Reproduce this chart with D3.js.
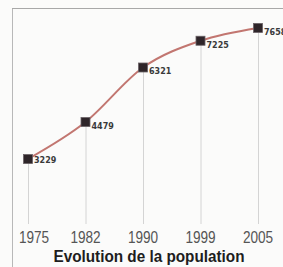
<!DOCTYPE html>
<html>
<head>
<meta charset="utf-8">
<script src="https://cdn.jsdelivr.net/npm/d3@7"></script>
<style>
    html, body { margin: 0; padding: 0; background: #fbfbfa; overflow: hidden; }
</style>
</head>
<body>
<div id="chart"></div>
<script>
const years = [ '1975', '1982', '1990', '1999', '2005' ];
const population = [ 3229, 4479, 6321, 7225, 7658 ];
const title = 'Evolution de la population';

const width = 283;
const height = 267;

const data = years.map( ( y, i ) => ( { year: y, value: population[ i ] } ) );

const svg = d3.select( '#chart' ).append( 'svg' )
    .attr( 'width', width )
    .attr( 'height', height )
    .style( 'display', 'block' );

// frame: left rule + top rule
svg.append( 'line' )
    .attr( 'x1', 12.5 ).attr( 'x2', 12.5 )
    .attr( 'y1', 8 ).attr( 'y2', height )
    .attr( 'stroke', '#b8b8b8' ).attr( 'stroke-width', 1 );
svg.append( 'line' )
    .attr( 'x1', 12 ).attr( 'x2', width )
    .attr( 'y1', 8.5 ).attr( 'y2', 8.5 )
    .attr( 'stroke', '#a8a8a8' ).attr( 'stroke-width', 1 );

const xScale = d3.scalePoint()
    .domain( years )
    .range( [ 28, 258 ] );

const yScale = d3.scaleLinear()
    .domain( [ 3000, 8000 ] )
    .range( [ 165.8, 17.8 ] );

const gridBottom = 224;

// vertical drop lines
svg.append( 'g' )
    .selectAll( 'line' )
    .data( data )
    .enter()
    .append( 'line' )
    .attr( 'x1', d => xScale( d.year ) + 0.5 )
    .attr( 'x2', d => xScale( d.year ) + 0.5 )
    .attr( 'y1', d => yScale( d.value ) )
    .attr( 'y2', gridBottom )
    .attr( 'stroke', '#d4d4d4' )
    .attr( 'stroke-width', 1 );

// curve
const line = d3.line()
    .x( d => xScale( d.year ) )
    .y( d => yScale( d.value ) )
    .curve( d3.curveMonotoneX );

svg.append( 'path' )
    .datum( data )
    .attr( 'd', line )
    .attr( 'fill', 'none' )
    .attr( 'stroke', '#c27670' )
    .attr( 'stroke-width', 2 );

// markers
svg.append( 'g' )
    .selectAll( 'rect' )
    .data( data )
    .enter()
    .append( 'rect' )
    .attr( 'x', d => xScale( d.year ) - 4.5 )
    .attr( 'y', d => yScale( d.value ) - 4.5 )
    .attr( 'width', 9 )
    .attr( 'height', 9 )
    .attr( 'fill', '#2e2529' )
    .attr( 'stroke', '#6a6266' )
    .attr( 'stroke-width', 0.8 );

// value labels
svg.append( 'g' )
    .selectAll( 'text' )
    .data( data )
    .enter()
    .append( 'text' )
    .attr( 'x', d => xScale( d.year ) + 6 )
    .attr( 'y', d => yScale( d.value ) + ( d.year === '1975' ? 4 : 7 ) )
    .attr( 'font-family', 'DejaVu Sans, Verdana, sans-serif' )
    .attr( 'font-size', 8 )
    .attr( 'font-weight', 'bold' )
    .attr( 'fill', '#3a3a3a' )
    .text( d => d.value );

// x axis labels (condensed horizontally)
svg.append( 'g' )
    .selectAll( 'text' )
    .data( years )
    .enter()
    .append( 'text' )
    .attr( 'transform', d => `translate( ${ xScale( d ) + ( d === '1975' ? 6 : 0 ) }, 243 ) scale( 0.8, 1 )` )
    .attr( 'text-anchor', 'middle' )
    .attr( 'font-family', 'Liberation Sans, Arial, sans-serif' )
    .attr( 'font-size', 17 )
    .attr( 'fill', '#555' )
    .text( d => d );

// title
svg.append( 'text' )
    .attr( 'transform', 'translate( 149, 262 ) scale( 0.9, 1 )' )
    .attr( 'text-anchor', 'middle' )
    .attr( 'font-family', 'Liberation Sans, Arial, sans-serif' )
    .attr( 'font-size', 17 )
    .attr( 'font-weight', 'bold' )
    .attr( 'fill', '#1e1e1e' )
    .text( title );
</script>
</body>
</html>
